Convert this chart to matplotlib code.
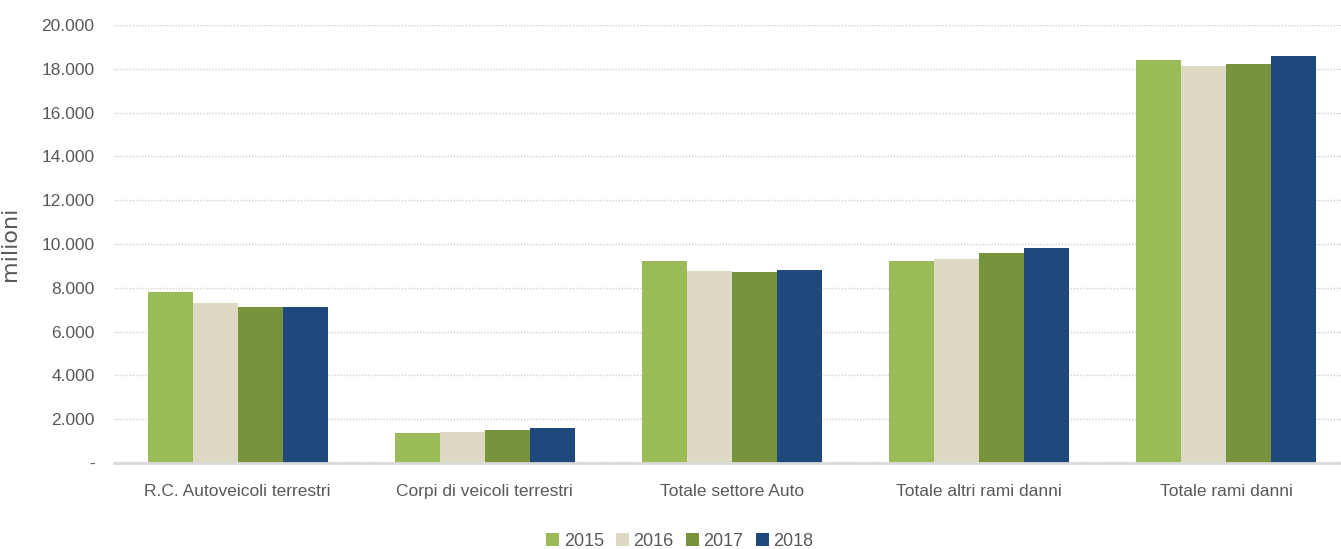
import matplotlib.pyplot as plt
import numpy as np
from matplotlib.ticker import FuncFormatter

categories = ["R.C. Autoveicoli terrestri", "Corpi di veicoli terrestri",
              "Totale settore Auto", "Totale altri rami danni", "Totale rami danni"]
years = ["2015", "2016", "2017", "2018"]
v2015 = [7820, 1360, 9220, 9220, 18390]
v2016 = [7300, 1430, 8780, 9320, 18130]
v2017 = [7140, 1520, 8710, 9570, 18220]
v2018 = [7140, 1610, 8800, 9820, 18570]
colors = ["#9BBB59", "#DDD9C3", "#77933C", "#1F497D"]

plt.rcParams['font.family'] = ['Liberation Sans Narrow', 'Liberation Sans', 'DejaVu Sans']
grey = "#595959"

fig = plt.figure(figsize=(13.41, 5.49), dpi=100)
ax = fig.add_axes([114 / 1341, 86 / 549, 1236 / 1341, 438 / 549])

x = np.arange(len(categories))
w = 0.182
series = [v2015, v2016, v2017, v2018]
for i, vals in enumerate(series):
    ax.bar(x + (i - 1.5) * w, vals, w, color=colors[i], label=years[i], zorder=2)

ax.set_xlim(-0.5, len(categories) - 0.5)
ax.set_ylim(0, 20000)
ax.set_yticks(range(0, 20001, 2000))
ax.yaxis.set_major_formatter(FuncFormatter(
    lambda v, p: "-" if v == 0 else f"{int(v):,}".replace(",", ".")))
ax.set_xticks(x)
ax.set_xticklabels(categories)
ax.tick_params(axis='both', length=0, colors=grey, labelsize=12.5)
ax.tick_params(axis='y', pad=14)
ax.tick_params(axis='x', pad=15)

ax.grid(axis='y', color="#d0d0d0", linestyle=(0, (1, 1.2)), linewidth=1, zorder=0)
for s in ['top', 'right', 'left']:
    ax.spines[s].set_visible(False)
ax.spines['bottom'].set_color("#d9d9d9")
ax.spines['bottom'].set_linewidth(2)
ax.spines['bottom'].set_zorder(3)

ax.set_ylabel("milioni", fontsize=16, color=grey, family=['DejaVu Sans'])
ax.yaxis.set_label_coords((20 - 114) / 1236, 0.5)

fig.legend(loc='center', bbox_to_anchor=(680 / 1341, 1 - 541 / 549), ncol=4,
           frameon=False, handlelength=0.7, handleheight=0.7, handletextpad=0.25,
           columnspacing=0.7, fontsize=13, labelcolor=grey)

plt.savefig("out.png", dpi=100)
